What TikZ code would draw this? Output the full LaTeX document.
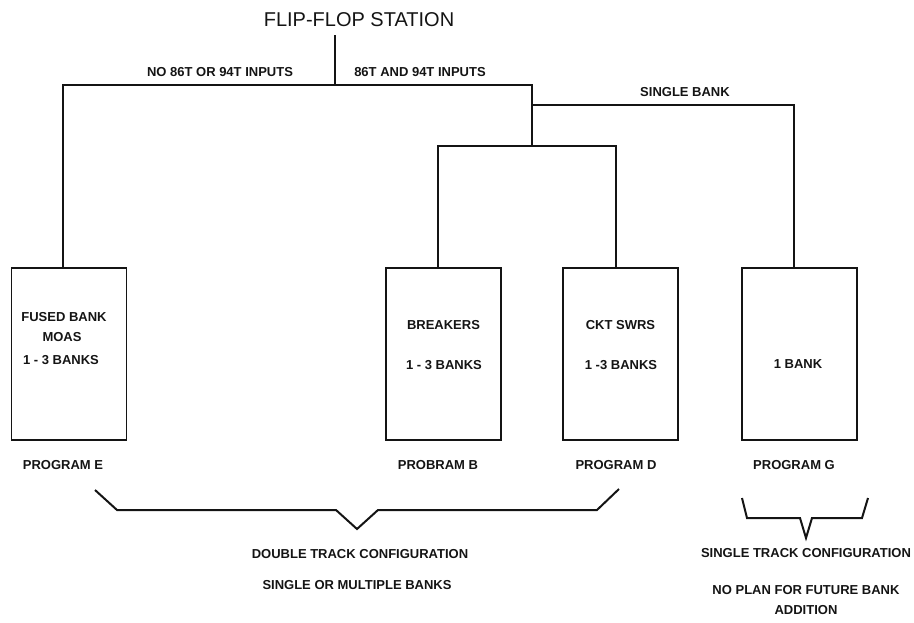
\documentclass[tikz,border=0pt]{standalone}
\usepackage{fontspec}
\setmainfont{Liberation Sans}
\usetikzlibrary{positioning,calc}
\definecolor{ink}{HTML}{141414}
\tikzset{
  bankbox/.style={draw=ink,line width=1.6pt,minimum width=115pt,minimum height=172pt,inner sep=0pt},
  wire/.style={draw=ink,line width=1.5pt},
  brace/.style={draw=ink,line width=2pt,line join=miter},
  lbl/.style={font=\fontsize{13}{15}\selectfont\bfseries,text=ink,inner sep=0pt},
  ttl/.style={font=\fontsize{20}{24}\selectfont,text=ink,inner sep=0pt},
}

\begin{document}
\begin{tikzpicture}[x=1pt,y=-1pt]
    \useasboundingbox (0,0) rectangle (914,622);
    \node[ttl] (title) at (359,20) {FLIP-FLOP STATION};
    % banks with their program names
    \foreach \n/\x/\p/\t in {E/69/63/PROGRAM E, B/443.5/438/PROBRAM B, D/620.5/616/PROGRAM D, G/799.5/794/PROGRAM G} {
      \node[bankbox] (box\n) at (\x,354) {};
      \coordinate (in\n) at (\p,268);
      \node[lbl] (prog\n) at (\p,465) {\t};
    }
    \node[lbl] (txtE1) at (64,317) {FUSED BANK};
    \node[lbl] (txtE2) at (62,337) {MOAS};
    \node[lbl] (txtE3) at (61,360) {1 - 3 BANKS};
    \node[lbl] (txtB1) at (443.5,325) {BREAKERS};
    \node[lbl] (txtB2) at (444,365) {1 - 3 BANKS};
    \node[lbl] (txtD1) at (620.5,325) {CKT SWRS};
    \node[lbl] (txtD2) at (621,365) {1 -3 BANKS};
    \node[lbl] (txtG1) at (798,364) {1 BANK};
    % tree
    \coordinate (stem) at (335,35);
    \coordinate (top) at (335,85);
    \coordinate (j1) at (532,85);
    \coordinate (jg) at (532,105);
    \coordinate (j2) at (532,146);
    \draw[wire] (stem) -- (top);
    \draw[wire] (inE) |- (top) -- (j1) -- (j2);
    \draw[wire] (jg) -| (inG);
    \draw[wire] (inB) |- (j2) -| (inD);
    \node[lbl] (noin) at (220,72) {NO 86T OR 94T INPUTS};
    \node[lbl] (yesin) at (420,72) {86T AND 94T INPUTS};
    \node[lbl] (single) at (685,92) {SINGLE BANK};
    % braces
    \coordinate (tipdbl) at (357,529);
    \coordinate (tipsgl) at (806,538);
    \draw[brace] (95,490) -- (117,510) -- (336,510) -- (tipdbl) -- (378,510) -- (597,510) -- (619,489);
    \draw[brace] (742,498) -- (747,518) -- (800,518) -- (tipsgl) -- (812,518) -- (862,518) -- (868,498);
    \node[lbl] (dbl) at (360,554) {DOUBLE TRACK CONFIGURATION};
    \node[lbl] (dblsub) at (357,585) {SINGLE OR MULTIPLE BANKS};
    \node[lbl] (sgl) at (806,553) {SINGLE TRACK CONFIGURATION};
    \node[lbl] (sglsub) at (806,590) {NO PLAN FOR FUTURE BANK};
    \node[lbl] (sgladd) at (806,610) {ADDITION};
  \end{tikzpicture}
\end{document}
